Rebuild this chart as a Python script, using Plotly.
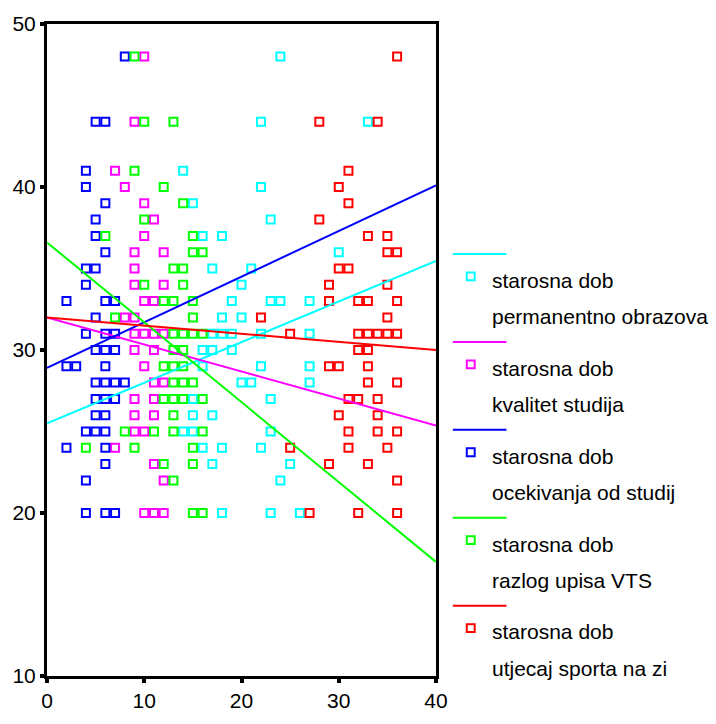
import plotly.graph_objects as go

# ---- data ----
series_names = [
    ["starosna dob", "permanentno obrazova"],
    ["starosna dob", "kvalitet studija"],
    ["starosna dob", "ocekivanja od studij"],
    ["starosna dob", "razlog upisa VTS"],
    ["starosna dob", "utjecaj sporta na zi"],
]
colors = ["#00FFFF", "#FF00FF", "#0000FF", "#00FF00", "#FF0000"]

cyan_x = [24, 22, 33, 14, 22, 15, 23, 16, 18, 30, 17, 21, 20, 19, 23, 24, 27, 18, 20,
          17, 18, 19, 22, 27, 16, 17, 19, 16, 22, 27, 20, 21, 27, 15, 23, 15, 17,
          14, 15, 23, 16, 18, 22, 17, 25, 24, 18, 23, 26]
cyan_y = [48, 44, 44, 41, 40, 39, 38, 37, 37, 36, 35, 35, 34, 33, 33, 33, 33, 32, 32,
          31, 31, 31, 31, 31, 30, 30, 30, 29, 29, 29, 28, 28, 28, 27, 27, 26, 26,
          25, 25, 25, 24, 24, 24, 23, 23, 22, 20, 20, 20]

magenta_x = [10, 9, 7, 8, 10, 11, 10, 9, 12, 9, 9, 12, 10, 11, 8, 9, 9, 10, 11, 12,
             9, 11, 10, 11, 12, 9, 11, 9, 11, 9, 10, 7, 11, 12, 10, 11, 12]
magenta_y = [48, 44, 41, 40, 39, 38, 37, 36, 36, 35, 34, 34, 33, 33, 32, 32, 31, 31, 31, 31,
             30, 30, 29, 28, 28, 27, 27, 26, 26, 25, 25, 24, 23, 22, 20, 20, 20]

blue_x = [8, 5, 6, 4, 4, 6, 5, 5, 6, 4, 5, 4, 2, 6, 7, 5, 4, 6, 7, 5, 6, 7, 2, 3, 6,
          5, 6, 7, 8, 5, 6, 7, 5, 6, 4, 5, 6, 2, 6, 6, 4, 4, 6, 7]
blue_y = [48, 44, 44, 41, 40, 39, 38, 37, 36, 35, 35, 34, 33, 33, 33, 32, 31, 31, 31, 30, 30, 30, 29, 29, 29,
          28, 28, 28, 28, 27, 27, 27, 26, 26, 25, 25, 25, 24, 24, 23, 22, 20, 20, 20]

green_x = [9, 10, 13, 9, 12, 14, 10, 6, 15, 15, 16, 13, 14, 10, 14, 12, 13, 15, 7, 15,
           13, 14, 15, 16, 13, 14, 12, 13, 14, 13, 14, 15, 12, 13, 14, 16, 13,
           8, 11, 13, 16, 4, 9, 15, 12, 15, 13, 15, 16]
green_y = [48, 44, 44, 41, 40, 39, 38, 37, 37, 36, 36, 35, 35, 34, 34, 33, 33, 33, 32, 32,
           31, 31, 31, 31, 30, 30, 29, 29, 29, 28, 28, 28, 27, 27, 27, 27, 26,
           25, 25, 25, 25, 24, 24, 24, 23, 23, 22, 20, 20]

red_x = [36, 28, 34, 31, 30, 31, 28, 33, 35, 35, 36, 30, 31, 29, 35, 29, 32, 33, 36, 22, 35,
         25, 32, 33, 34, 35, 36, 32, 33, 29, 30, 33, 33, 36, 31, 32, 34, 30, 34,
         31, 34, 36, 25, 31, 35, 29, 33, 36, 27, 32, 36]
red_y = [48, 44, 44, 41, 40, 39, 38, 37, 37, 36, 36, 35, 35, 34, 34, 33, 33, 33, 33, 32, 32,
         31, 31, 31, 31, 31, 31, 30, 30, 29, 29, 29, 28, 28, 27, 27, 27, 26, 26,
         25, 25, 25, 24, 24, 24, 23, 23, 22, 20, 20, 20]

# linear fit lines (intercept, slope) as shown in the reference
fit_intercepts = [25.5, 32.0, 28.9, 36.6, 32.0]
fit_slopes = [0.249, -0.166, 0.28, -0.49, -0.05]
fit_x_range = [0, 40]

x_ticks = [0, 10, 20, 30, 40]
y_ticks = [10, 20, 30, 40, 50]

xs = [cyan_x, magenta_x, blue_x, green_x, red_x]
ys = [cyan_y, magenta_y, blue_y, green_y, red_y]

# ---- figure ----
W, H = 716, 724
ML, MR, MT, MB = 44, 280, 20, 35
PW, PH = W - ML - MR, H - MT - MB

fig = go.Figure()
for i in range(5):
    fig.add_trace(go.Scatter(
        x=xs[i], y=ys[i], mode="markers",
        marker=dict(symbol="square-open", size=8, color=colors[i],
                    line=dict(width=2, color=colors[i])),
        showlegend=False, hoverinfo="x+y"))
for i in range(5):
    lx = fit_x_range
    ly = [fit_intercepts[i] + fit_slopes[i] * v for v in lx]
    fig.add_trace(go.Scatter(x=lx, y=ly, mode="lines",
                             line=dict(color=colors[i], width=2),
                             showlegend=False, hoverinfo="skip"))


def px2paper(px, py):
    return (px - ML) / PW, (H - MB - py) / PH


# manual legend
shapes = []
annotations = []
for i in range(5):
    ly = 256 + 90.2 * i
    x0, y0 = px2paper(453, ly)
    x1, _ = px2paper(507, ly)
    shapes.append(dict(type="line", xref="paper", yref="paper", x0=x0, x1=x1, y0=y0, y1=y0,
                       line=dict(color=colors[i], width=2)))
    mx0, my0 = px2paper(467, ly + 19)
    mx1, my1 = px2paper(475, ly + 27)
    shapes.append(dict(type="rect", xref="paper", yref="paper", x0=mx0, x1=mx1, y0=my1, y1=my0,
                       line=dict(color=colors[i], width=2), fillcolor="white"))
    for k, txt in enumerate(series_names[i]):
        tx, ty = px2paper(490, ly + 27 + 37 * k)
        annotations.append(dict(text=txt, xref="paper", yref="paper", x=tx, y=ty,
                                xanchor="left", yanchor="middle", showarrow=False,
                                font=dict(size=21, color="black")))

fig.update_layout(
    width=W, height=H,
    margin=dict(l=ML, r=MR, t=MT, b=MB, pad=0),
    paper_bgcolor="white", plot_bgcolor="white",
    font=dict(family="Liberation Sans, Arial, sans-serif", size=21, color="black"),
    showlegend=False,
    shapes=shapes, annotations=annotations,
    xaxis=dict(range=[0, 40], tickvals=x_ticks, ticks="outside", ticklen=4, tickwidth=4,
               tickcolor="black", showline=True, linewidth=3, linecolor="black", mirror=True,
               showgrid=False, zeroline=False),
    yaxis=dict(range=[10, 50], tickvals=y_ticks, ticks="outside", ticklen=4, tickwidth=4,
               tickcolor="black", showline=True, linewidth=3, linecolor="black", mirror=True,
               showgrid=False, zeroline=False),
)

fig.write_html("out.html")
